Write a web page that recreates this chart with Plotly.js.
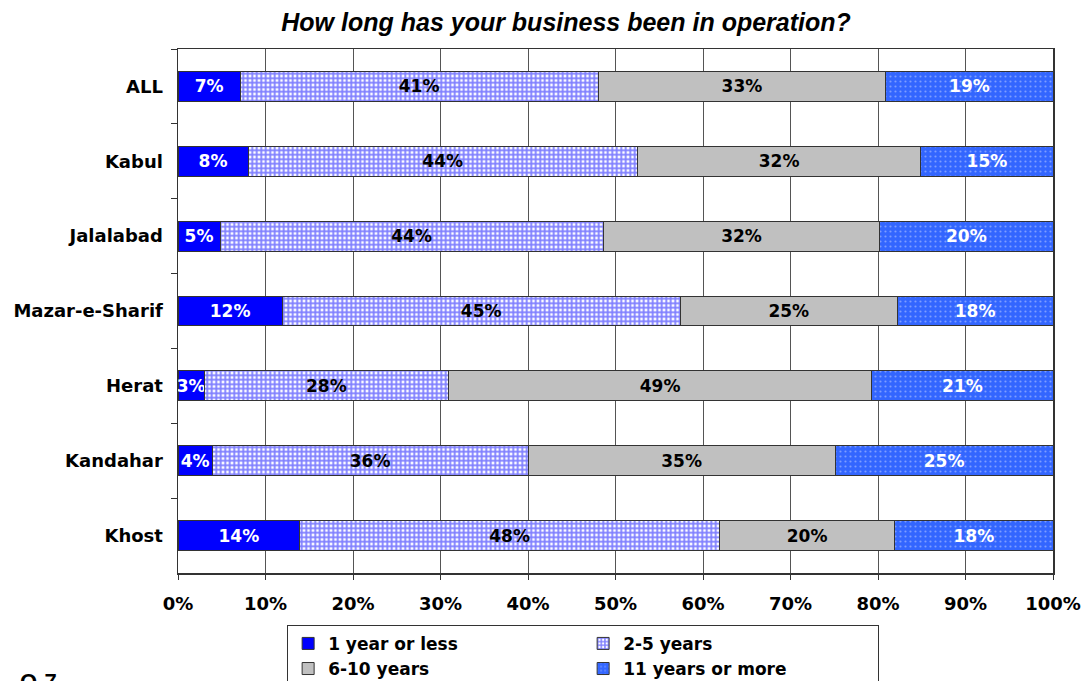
<!DOCTYPE html>
<html>
<head>
<meta charset="utf-8">
<script src="https://cdn.plot.ly/plotly-3.0.1.min.js"></script>
<style>html,body{margin:0;padding:0;background:#fff;}#chart{width:1085px;height:681px;}</style>
</head>
<body>
<div id="chart"></div>
<script>
const categories = ["ALL", "Kabul", "Jalalabad", "Mazar-e-Sharif", "Herat", "Kandahar", "Khost"];
const seriesNames = ["1 year or less", "2-5 years", "6-10 years", "11 years or more"];
const oneYearOrLess = [7.1, 8.0, 4.8, 11.9, 3.0, 3.9, 13.9];
const twoToFive = [40.9, 44.5, 43.8, 45.5, 27.9, 36.1, 48.0];
const sixToTen = [32.9, 32.4, 31.6, 24.8, 48.4, 35.1, 20.0];
const elevenPlus = [19.1, 15.1, 19.8, 17.8, 20.7, 24.9, 18.1];
const labels1 = ["7%", "8%", "5%", "12%", "3%", "4%", "14%"];
const labels2 = ["41%", "44%", "44%", "45%", "28%", "36%", "48%"];
const labels3 = ["33%", "32%", "32%", "25%", "49%", "35%", "20%"];
const labels4 = ["19%", "15%", "20%", "18%", "21%", "25%", "18%"];
const xTickVals = [0, 10, 20, 30, 40, 50, 60, 70, 80, 90, 100];
const xTickText = ["0%", "10%", "20%", "30%", "40%", "50%", "60%", "70%", "80%", "90%", "100%"];

const font = "'DejaVu Sans', Verdana, sans-serif";
const titleFont = "Arial, 'Liberation Sans', sans-serif";
const lineStyle = {color: "#333333", width: 1};
function tfont(c) { return {family: font, size: 17, color: c, weight: "bold"}; }

const traces = [
  {name: seriesNames[0], x: oneYearOrLess, text: labels1, textfont: tfont("#ffffff"),
   marker: {color: "#0000ff", line: lineStyle}},
  {name: seriesNames[1], x: twoToFive, text: labels2, textfont: tfont("#000000"),
   marker: {color: "#ffffff", line: lineStyle,
            pattern: {shape: "+", fgcolor: "#0000ff", bgcolor: "#ffffff", size: 4.5, solidity: 0.65, fillmode: "overlay"}}},
  {name: seriesNames[2], x: sixToTen, text: labels3, textfont: tfont("#000000"),
   marker: {color: "#c0c0c0", line: lineStyle}},
  {name: seriesNames[3], x: elevenPlus, text: labels4, textfont: tfont("#ffffff"),
   marker: {color: "#3366ff", line: lineStyle,
            pattern: {shape: ".", fgcolor: "#c8d4ff", bgcolor: "#3366ff", size: 5, solidity: 0.15, fillmode: "overlay"}}}
].map(t => Object.assign({
  type: "bar", orientation: "h", y: categories,
  textposition: "inside", insidetextanchor: "middle", constraintext: "none", textangle: 0,
  hoverinfo: "skip"
}, t));

const layout = {
  width: 1085, height: 681,
  margin: {l: 178, r: 32, t: 49, b: 108, autoexpand: false},
  paper_bgcolor: "#ffffff", plot_bgcolor: "#ffffff",
  barmode: "stack", bargap: 0.6,
  font: {family: font, size: 17, color: "#000000"},
  title: {text: "How long has your business been in operation?",
          font: {family: titleFont, size: 25, color: "#000000", weight: "bold", style: "italic"},
          x: 0.5217, xanchor: "center", y: 0.968, yanchor: "middle"},
  xaxis: {range: [0, 100], tickvals: xTickVals, ticktext: xTickText,
          showgrid: true, gridcolor: "#555555", gridwidth: 1,
          showline: true, linecolor: "#333333", linewidth: 1.5, mirror: true,
          ticks: "outside", ticklen: 5, tickcolor: "#333333", ticklabelstandoff: 9,
          tickfont: {family: font, size: 18, color: "#000000", weight: "bold"},
          zeroline: false, fixedrange: true},
  yaxis: {autorange: "reversed", type: "category",
          showline: true, linecolor: "#333333", linewidth: 1.5, mirror: true,
          ticks: "outside", tickson: "boundaries", ticklen: 6, tickcolor: "#333333",
          ticklabelstandoff: 10,
          tickfont: {family: font, size: 18, color: "#000000", weight: "bold"},
          showgrid: false, fixedrange: true},
  legend: {orientation: "h", x: 0.463, xanchor: "center", y: -0.099, yanchor: "top",
           bordercolor: "#333333", borderwidth: 1, bgcolor: "#ffffff",
           entrywidth: 250, traceorder: "normal", itemclick: false, tracegroupgap: 0,
           font: {family: font, size: 17, color: "#000000", weight: "bold"}},
  annotations: [{text: "Q-7", xref: "paper", yref: "paper", x: -0.183, y: -0.18,
                 xanchor: "left", yanchor: "top", showarrow: false,
                 font: {family: titleFont, size: 22, color: "#000000", weight: "bold"}}]
};

Plotly.newPlot("chart", traces, layout, {displayModeBar: false, staticPlot: true});
</script>
</body>
</html>
